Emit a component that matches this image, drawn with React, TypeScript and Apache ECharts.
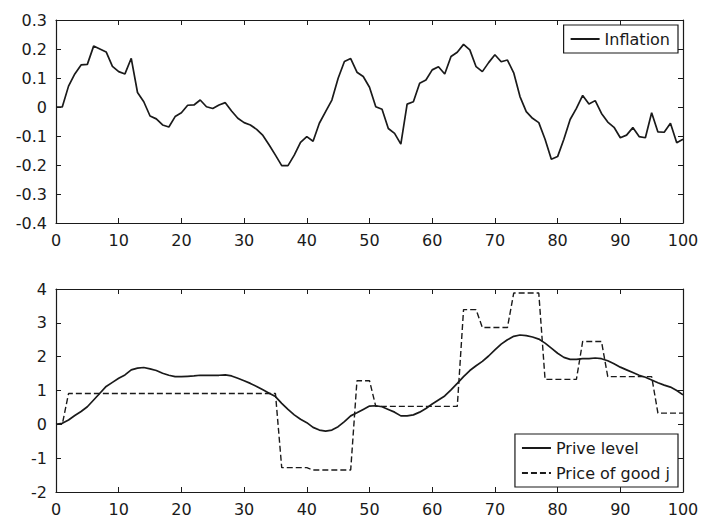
import React, { useEffect, useRef } from "react";
import * as echarts from "echarts";

const xTicks = [0, 10, 20, 30, 40, 50, 60, 70, 80, 90, 100];

const inflation = [
  0, 0, 0.072, 0.114, 0.145, 0.147, 0.21, 0.2, 0.19, 0.14,
  0.122, 0.114, 0.168, 0.05, 0.018, -0.031, -0.041, -0.062, -0.069, -0.033,
  -0.02, 0.006, 0.007, 0.024, 0.001, -0.005, 0.007, 0.015, -0.014, -0.039,
  -0.054, -0.062, -0.077, -0.098, -0.131, -0.166, -0.202, -0.202, -0.166, -0.122,
  -0.102, -0.118, -0.056, -0.016, 0.024, 0.099, 0.157, 0.167, 0.12, 0.105,
  0.068, 0.001, -0.008, -0.074, -0.091, -0.128, 0.01, 0.018, 0.082, 0.093,
  0.128, 0.139, 0.114, 0.174, 0.189, 0.216, 0.197, 0.139, 0.122, 0.153,
  0.18, 0.156, 0.162, 0.118, 0.036, -0.016, -0.039, -0.054, -0.111, -0.18,
  -0.171, -0.111, -0.043, -0.005, 0.04, 0.01, 0.022, -0.022, -0.052, -0.07,
  -0.106, -0.097, -0.071, -0.102, -0.106, -0.02, -0.086, -0.087, -0.056, -0.123,
  -0.111,
];

const priceLevel = [
  0, 0.03, 0.13, 0.26, 0.38, 0.52, 0.72, 0.92, 1.12, 1.24,
  1.36, 1.46, 1.61, 1.66, 1.68, 1.64, 1.59, 1.51, 1.45, 1.41,
  1.41, 1.42, 1.43, 1.45, 1.45, 1.45, 1.45, 1.46, 1.43, 1.36,
  1.29, 1.21, 1.12, 1.02, 0.92, 0.82, 0.62, 0.44, 0.28, 0.15,
  0.05, -0.09, -0.17, -0.2, -0.17, -0.07, 0.08, 0.25, 0.34, 0.44,
  0.54, 0.55, 0.52, 0.44, 0.36, 0.25, 0.25, 0.28, 0.36, 0.47,
  0.6, 0.72, 0.84, 1.02, 1.21, 1.41, 1.59, 1.73, 1.86, 2.02,
  2.2, 2.37, 2.5, 2.6, 2.64, 2.62, 2.58, 2.52, 2.4, 2.25,
  2.1, 1.98, 1.92, 1.92, 1.94, 1.94, 1.96, 1.94, 1.88, 1.79,
  1.69, 1.61, 1.53, 1.45, 1.39, 1.31, 1.23, 1.16, 1.1, 1.0,
  0.87,
];

const priceGoodJ = [
  0, 0, 0.91, 0.91, 0.91, 0.91, 0.91, 0.91, 0.91, 0.91,
  0.91, 0.91, 0.91, 0.91, 0.91, 0.91, 0.91, 0.91, 0.91, 0.91,
  0.91, 0.91, 0.91, 0.91, 0.91, 0.91, 0.91, 0.91, 0.91, 0.91,
  0.91, 0.91, 0.91, 0.91, 0.91, 0.91, -1.28, -1.28, -1.28, -1.28,
  -1.28, -1.35, -1.35, -1.35, -1.35, -1.35, -1.35, -1.35, 1.29, 1.29,
  1.29, 0.53, 0.53, 0.53, 0.53, 0.53, 0.53, 0.53, 0.53, 0.53,
  0.53, 0.53, 0.53, 0.53, 0.53, 3.39, 3.39, 3.39, 2.86, 2.86,
  2.86, 2.86, 2.86, 3.88, 3.88, 3.88, 3.88, 3.88, 1.33, 1.33,
  1.33, 1.33, 1.33, 1.33, 2.45, 2.45, 2.45, 2.45, 1.41, 1.41,
  1.41, 1.41, 1.41, 1.41, 1.41, 1.41, 0.33, 0.33, 0.33, 0.33,
  0.33,
];

const FONT = "DejaVu Sans";
const INK = "#1a1a1a";

function pairs(vals: number[]) {
  return vals.map((v, i) => [i, v]);
}

export default function App() {
  const ref = useRef<HTMLDivElement>(null);
  useEffect(() => {
    if (!ref.current) return;
    const chart = echarts.init(ref.current, null, { renderer: "svg" });
    const tick = { show: true, inside: true, length: 5, lineStyle: { color: INK, width: 1 } };
    const line = { show: true, onZero: false, lineStyle: { color: INK, width: 1.2 } };
    const label = { color: INK, fontFamily: FONT, fontSize: 16 };
    const xBase = (gridIndex: number, pos: "top" | "bottom") => ({
      type: "value" as const,
      gridIndex,
      position: pos,
      min: xTicks[0],
      max: xTicks[xTicks.length - 1],
      interval: 10,
      axisLine: line,
      axisTick: tick,
      splitLine: { show: false },
      axisLabel: pos === "bottom" ? { ...label, margin: 9 } : { show: false },
    });
    const yBase = (gridIndex: number, pos: "left" | "right", min: number, max: number, interval: number) => ({
      type: "value" as const,
      gridIndex,
      position: pos,
      min,
      max,
      interval,
      axisLine: line,
      axisTick: tick,
      splitLine: { show: false },
      axisLabel:
        pos === "left"
          ? {
              ...label,
              margin: 9,
              formatter: (v: number) => String(Number(v.toFixed(1))),
            }
          : { show: false },
    });
    const legendCommon = {
      orient: "vertical" as const,
      right: 24,
      itemWidth: 29,
      itemHeight: 10,
      itemGap: 5,
      borderColor: INK,
      borderWidth: 1.2,
      backgroundColor: "#fff",
      padding: [4, 8, 4, 6],
      itemStyle: { color: "rgba(0,0,0,0)", borderWidth: 0, borderColor: "rgba(0,0,0,0)" },
      textStyle: { color: INK, fontFamily: FONT, fontSize: 16, lineHeight: 20 },
      selectedMode: false,
    };
    chart.setOption({
      animation: false,
      backgroundColor: "#fff",
      grid: [
        { left: 56, right: 19, top: 20, height: 203 },
        { left: 56, right: 19, top: 289, height: 203 },
      ],
      xAxis: [xBase(0, "bottom"), xBase(0, "top"), xBase(1, "bottom"), xBase(1, "top")],
      yAxis: [
        yBase(0, "left", -0.4, 0.3, 0.1),
        yBase(0, "right", -0.4, 0.3, 0.1),
        yBase(1, "left", -2, 4, 1),
        yBase(1, "right", -2, 4, 1),
      ],
      legend: [
        { ...legendCommon, top: 25, data: ["Inflation"] },
        { ...legendCommon, top: 434, data: ["Prive level", "Price of good j"] },
      ],
      series: [
        {
          name: "Inflation",
          type: "line",
          xAxisIndex: 0,
          yAxisIndex: 0,
          data: pairs(inflation),
          symbol: "none",
          lineStyle: { color: INK, width: 1.7 },
          itemStyle: { color: INK },
          z: 3,
        },
        {
          name: "Prive level",
          type: "line",
          xAxisIndex: 2,
          yAxisIndex: 2,
          data: pairs(priceLevel),
          symbol: "none",
          lineStyle: { color: INK, width: 1.7 },
          itemStyle: { color: INK },
          z: 3,
        },
        {
          name: "Price of good j",
          type: "line",
          xAxisIndex: 2,
          yAxisIndex: 2,
          data: pairs(priceGoodJ),
          symbol: "none",
          lineStyle: { color: INK, width: 1.4, type: [6, 3] },
          itemStyle: { color: INK },
          z: 3,
        },
      ],
    });
    return () => chart.dispose();
  }, []);
  return (
    <div
      ref={ref}
      style={{ position: "fixed", left: 0, top: 0, width: 702, height: 522, background: "#fff" }}
    />
  );
}
